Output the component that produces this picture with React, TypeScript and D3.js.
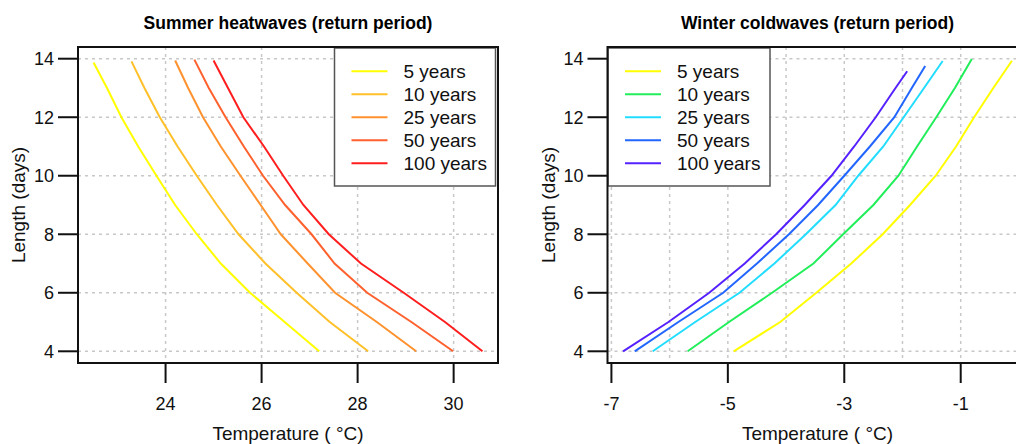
import React from "react";
import * as d3 from "d3";

// Return-period curves: temperature reached for each heatwave / coldwave length.
const periods = ["5 years", "10 years", "25 years", "50 years", "100 years"];
const dayLevels = [4, 5, 6, 7, 8, 9, 10, 11, 12, 13];

// Summer heatwaves (°C), one value per day level plus the curve's last point
const heatTopDays = [13.87, 13.91, 13.94, 13.97, 13.94];
const heat5 = [27.2, 26.48, 25.76, 25.15, 24.65, 24.2, 23.81, 23.43, 23.08, 22.78, 22.5];
const heat10 = [28.22, 27.42, 26.73, 26.08, 25.52, 25.07, 24.65, 24.25, 23.88, 23.56, 23.29];
const heat25 = [29.22, 28.4, 27.53, 26.96, 26.4, 25.98, 25.56, 25.15, 24.78, 24.47, 24.2];
const heat50 = [29.99, 29.12, 28.2, 27.52, 27.04, 26.49, 26.03, 25.63, 25.25, 24.9, 24.6];
const heat100 = [30.6, 29.82, 28.96, 28.07, 27.4, 26.87, 26.45, 26.05, 25.62, 25.3, 25.0];
const heatColors = ["#FFFF00", "#FFC02A", "#FF922E", "#FF612E", "#FF1E1E"];

// Winter coldwaves (°C)
const coldTopDays = [13.93, 13.99, 13.92, 13.75, 13.57];
const cold5 = [-4.9, -4.1, -3.48, -2.88, -2.34, -1.87, -1.43, -1.08, -0.77, -0.44, -0.12];
const cold10 = [-5.69, -4.98, -4.24, -3.53, -3.02, -2.5, -2.07, -1.75, -1.42, -1.1, -0.81];
const cold25 = [-6.29, -5.56, -4.8, -4.2, -3.66, -3.15, -2.76, -2.33, -1.98, -1.63, -1.31];
const cold50 = [-6.6, -5.85, -5.08, -4.5, -3.95, -3.45, -3.0, -2.56, -2.14, -1.84, -1.61];
const cold100 = [-6.8, -6.02, -5.32, -4.71, -4.17, -3.68, -3.22, -2.83, -2.46, -2.12, -1.92];
const coldColors = ["#FFFF00", "#22EE5A", "#22DDFF", "#2266FF", "#5522FF"];

// Axis ticks and grid positions
const yTicks = [4, 6, 8, 10, 12, 14];
const heatXTicks = [24, 26, 28, 30];
const heatGrid = [24, 26, 28, 30];
const coldXTicks = [-7, -5, -3, -1];
const coldGrid = [-7, -6, -5, -4, -3, -2, -1, 0];

const FONT = "'Liberation Sans', Arial, Helvetica, sans-serif";

type Pt = { t: number; d: number };

function toPoints(temps: number[], top: number): Pt[] {
  const ds = [...dayLevels, top];
  return temps.map((t, i) => ({ t, d: ds[i] }));
}

// R-style axis range: data extent padded by 4% on each side
function padded(ext: [number, number]): [number, number] {
  const r = ext[1] - ext[0];
  return [ext[0] - 0.04 * r, ext[1] + 0.04 * r];
}

type PanelProps = {
  title: string;
  x0: number;
  series: Pt[][];
  colors: string[];
  xTicks: number[];
  xGrid: number[];
  legendX: number;
  legendW: number;
};

const Y0 = 47;
const Y1 = 363;
const W = 420;

function Panel({ title, x0, series, colors, xTicks, xGrid, legendX, legendW }: PanelProps) {
  const x1 = x0 + W;
  const allT = series.flat().map((p) => p.t);
  const x = d3.scaleLinear().domain(padded(d3.extent(allT) as [number, number])).range([x0, x1]);
  const y = d3.scaleLinear().domain(padded([4, 14])).range([Y1, Y0]);
  const line = d3
    .line<Pt>()
    .x((p) => x(p.t))
    .y((p) => y(p.d));
  const cx = (x0 + x1) / 2;
  const cy = (Y0 + Y1) / 2;
  const legendY = 48;
  const rowStep = 23;
  const legendH = 138;

  return (
    <g fontFamily={FONT}>
      <text x={cx} y={29} textAnchor="middle" fontWeight="bold" fontSize={17.5} fill="#000">
        {title}
      </text>

      {/* grid */}
      <g stroke="#c8c8c8" strokeWidth={1.5} strokeDasharray="3,4">
        {yTicks.map((v) => (
          <line key={"h" + v} x1={x0} x2={x1} y1={y(v)} y2={y(v)} />
        ))}
        {xGrid.map((v) => (
          <line key={"v" + v} x1={x(v)} x2={x(v)} y1={Y0} y2={Y1} />
        ))}
      </g>

      {/* curves */}
      <g fill="none" strokeWidth={2}>
        {series.map((s, i) => (
          <path key={i} d={line(s) || ""} stroke={colors[i]} />
        ))}
      </g>

      {/* legend */}
      <rect x={legendX} y={legendY} width={legendW} height={legendH} fill="#fff" stroke="#555" strokeWidth={1.5} />
      {periods.map((p, i) => {
        const ry = legendY + 23.3 + i * rowStep;
        return (
          <g key={p}>
            <line x1={legendX + 17} x2={legendX + 53} y1={ry} y2={ry} stroke={colors[i]} strokeWidth={2} />
            <text x={legendX + 69} y={ry} dy="0.35em" fontSize={19} fill="#111">
              {p}
            </text>
          </g>
        );
      })}

      {/* box */}
      <rect x={x0} y={Y0} width={W} height={Y1 - Y0} fill="none" stroke="#111" strokeWidth={2} />

      {/* y axis */}
      {yTicks.map((v) => (
        <g key={"yt" + v}>
          <line x1={x0 - 20} x2={x0} y1={y(v)} y2={y(v)} stroke="#111" strokeWidth={2} />
          <text x={x0 - 24} y={y(v)} dy="0.35em" textAnchor="end" fontSize={18} fill="#111">
            {v}
          </text>
        </g>
      ))}
      {/* x axis */}
      {xTicks.map((v) => (
        <g key={"xt" + v}>
          <line x1={x(v)} x2={x(v)} y1={Y1} y2={Y1 + 20} stroke="#111" strokeWidth={2} />
          <text x={x(v)} y={409.5} textAnchor="middle" fontSize={18} fill="#111">
            {v}
          </text>
        </g>
      ))}

      <text x={cx} y={439.5} textAnchor="middle" fontSize={19} fill="#111">
        Temperature ( °C)
      </text>
      <text
        transform={`translate(${x0 - 53},${cy}) rotate(-90)`}
        textAnchor="middle"
        fontSize={19}
        fill="#111"
      >
        Length (days)
      </text>
    </g>
  );
}

export default function App() {
  const heat = [heat5, heat10, heat25, heat50, heat100].map((s, i) => toPoints(s, heatTopDays[i]));
  const cold = [cold5, cold10, cold25, cold50, cold100].map((s, i) => toPoints(s, coldTopDays[i]));
  return (
    <svg
      width={1016}
      height={444}
      viewBox="0 0 1016 444"
      style={{ position: "absolute", left: 0, top: 0, background: "#fff" }}
    >
      <rect width={1016} height={444} fill="#fff" />
      <Panel
        title="Summer heatwaves (return period)"
        x0={78}
        series={heat}
        colors={heatColors}
        xTicks={heatXTicks}
        xGrid={heatGrid}
        legendX={334.5}
        legendW={161}
      />
      <Panel
        title="Winter coldwaves (return period)"
        x0={607.5}
        series={cold}
        colors={coldColors}
        xTicks={coldXTicks}
        xGrid={coldGrid}
        legendX={608}
        legendW={162}
      />
    </svg>
  );
}
